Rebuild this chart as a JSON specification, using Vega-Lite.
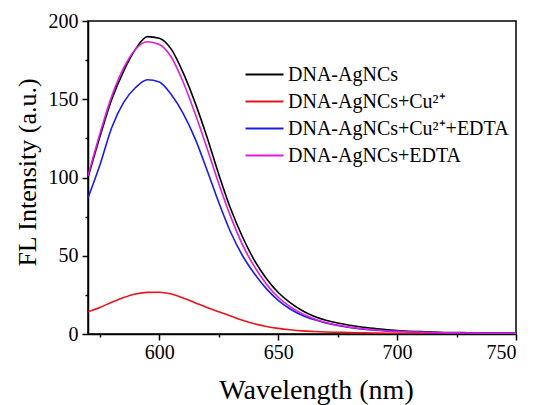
{
  "$schema": "https://vega.github.io/schema/vega-lite/v6.json",
  "width": 428,
  "height": 313,
  "autosize": "none",
  "padding": {"left": 88, "top": 21, "right": 18, "bottom": 71},
  "background": "white",
  "config": {
    "view": {"stroke": "black", "strokeWidth": 1.5},
    "axis": {"labelFont": "Liberation Serif", "titleFont": "Liberation Serif"},
    "legend": {"labelFont": "Liberation Serif"}
  },
  "data": {
    "values": [
      {"w": 570, "a": 100, "b": 14.2, "c": 87, "d": 101},
      {"w": 575, "a": 126, "b": 17, "c": 108, "d": 128},
      {"w": 580, "a": 150, "b": 20.3, "c": 132, "d": 152},
      {"w": 585, "a": 168, "b": 23.3, "c": 148, "d": 170},
      {"w": 590, "a": 182, "b": 25.6, "c": 157.5, "d": 182},
      {"w": 595, "a": 190, "b": 26.6, "c": 162.5, "d": 186.7},
      {"w": 600, "a": 189, "b": 26.7, "c": 161, "d": 185},
      {"w": 605, "a": 182, "b": 25.5, "c": 153, "d": 177},
      {"w": 610, "a": 167, "b": 23, "c": 141, "d": 161},
      {"w": 615, "a": 148, "b": 20, "c": 125, "d": 141},
      {"w": 620, "a": 126, "b": 17, "c": 105, "d": 119},
      {"w": 625, "a": 102, "b": 14.2, "c": 84, "d": 96},
      {"w": 630, "a": 80, "b": 11.5, "c": 65, "d": 75},
      {"w": 635, "a": 62, "b": 8.8, "c": 50, "d": 57},
      {"w": 640, "a": 47, "b": 6.5, "c": 38.5, "d": 43},
      {"w": 645, "a": 35.5, "b": 4.8, "c": 29, "d": 32},
      {"w": 650, "a": 26.5, "b": 3.6, "c": 21.5, "d": 23.5},
      {"w": 655, "a": 20, "b": 2.7, "c": 16, "d": 17.5},
      {"w": 660, "a": 15, "b": 2.0, "c": 12, "d": 13},
      {"w": 665, "a": 11.3, "b": 1.6, "c": 9.2, "d": 9.8},
      {"w": 670, "a": 8.8, "b": 1.3, "c": 7, "d": 7.4},
      {"w": 675, "a": 7, "b": 1.1, "c": 5.4, "d": 5.7},
      {"w": 680, "a": 5.6, "b": 0.9, "c": 4.2, "d": 4.4},
      {"w": 685, "a": 4.5, "b": 0.75, "c": 3.3, "d": 3.4},
      {"w": 690, "a": 3.6, "b": 0.6, "c": 2.6, "d": 2.7},
      {"w": 695, "a": 2.8, "b": 0.5, "c": 2.0, "d": 2.1},
      {"w": 700, "a": 2.2, "b": 0.4, "c": 1.6, "d": 1.7},
      {"w": 705, "a": 1.8, "b": 0.35, "c": 1.3, "d": 1.4},
      {"w": 710, "a": 1.5, "b": 0.3, "c": 1.1, "d": 1.15},
      {"w": 715, "a": 1.2, "b": 0.3, "c": 0.9, "d": 0.95},
      {"w": 720, "a": 1.0, "b": 0.25, "c": 0.8, "d": 0.8},
      {"w": 725, "a": 0.9, "b": 0.25, "c": 0.7, "d": 0.7},
      {"w": 730, "a": 0.8, "b": 0.2, "c": 0.6, "d": 0.6},
      {"w": 735, "a": 0.7, "b": 0.2, "c": 0.55, "d": 0.55},
      {"w": 740, "a": 0.6, "b": 0.2, "c": 0.5, "d": 0.5},
      {"w": 745, "a": 0.55, "b": 0.2, "c": 0.45, "d": 0.45},
      {"w": 750, "a": 0.5, "b": 0.2, "c": 0.4, "d": 0.4}
    ]
  },
  "transform": [
    {"fold": ["a", "b", "c", "d"], "as": ["key", "value"]},
    {"lookup": "key", "from": {"data": {"values": [
      {"key": "a", "series": "DNA-AgNCs"},
      {"key": "b", "series": "DNA-AgNCs+Cu²⁺"},
      {"key": "c", "series": "DNA-AgNCs+Cu²⁺+EDTA"},
      {"key": "d", "series": "DNA-AgNCs+EDTA"}
    ]}, "key": "key", "fields": ["series"]}}
  ],
  "mark": {"type": "line", "strokeWidth": 1.6, "clip": true, "interpolate": "monotone"},
  "encoding": {
    "x": {
      "field": "w", "type": "quantitative",
      "scale": {"domain": [570, 750], "nice": false, "zero": false},
      "axis": {
        "title": "Wavelength (nm)",
        "values": [575, 600, 625, 650, 675, 700, 725, 750],
        "labelExpr": "datum.value % 50 === 0 ? datum.label : ''",
        "tickSize": {"condition": {"test": "datum.value % 50 === 0", "value": 6}, "value": 3},
        "grid": false,
        "domainColor": "black", "domainWidth": 1.5,
        "tickColor": "black", "tickWidth": 1.5,
        "labelColor": "black", "labelFontSize": 20, "labelPadding": 2,
        "titleColor": "black", "titleFontSize": 28, "titleFontWeight": "normal",
        "titleX": 228, "titleY": 64, "titleAlign": "center", "titleBaseline": "alphabetic"
      }
    },
    "y": {
      "field": "value", "type": "quantitative",
      "scale": {"domain": [0, 200], "nice": false},
      "axis": {
        "title": "FL Intensity (a.u.)",
        "values": [0, 25, 50, 75, 100, 125, 150, 175, 200],
        "labelExpr": "datum.value % 50 === 0 ? datum.label : ''",
        "tickSize": {"condition": {"test": "datum.value % 50 === 0", "value": 6}, "value": 3},
        "grid": false,
        "domainColor": "black", "domainWidth": 1.5,
        "tickColor": "black", "tickWidth": 1.5,
        "labelColor": "black", "labelFontSize": 20, "labelPadding": 4,
        "titleColor": "black", "titleFontSize": 26, "titleFontWeight": "normal",
        "titleX": -53, "titleY": 151, "titleAlign": "center", "titleBaseline": "alphabetic", "titleAngle": 270
      }
    },
    "color": {
      "field": "series", "type": "nominal",
      "scale": {
        "domain": ["DNA-AgNCs", "DNA-AgNCs+Cu²⁺", "DNA-AgNCs+Cu²⁺+EDTA", "DNA-AgNCs+EDTA"],
        "range": ["#000000", "#e8141c", "#1c1ce8", "#e01ce0"]
      },
      "legend": {
        "title": null,
        "orient": "none",
        "legendX": 166,
        "legendY": 43,
        "symbolType": "M-2,0H2",
        "symbolSize": 361,
        "symbolStrokeWidth": 1.8,
        "labelFontSize": 20,
        "labelColor": "black",
        "labelOffset": 13,
        "labelLimit": 400,
        "rowPadding": 6
      }
    }
  }
}
